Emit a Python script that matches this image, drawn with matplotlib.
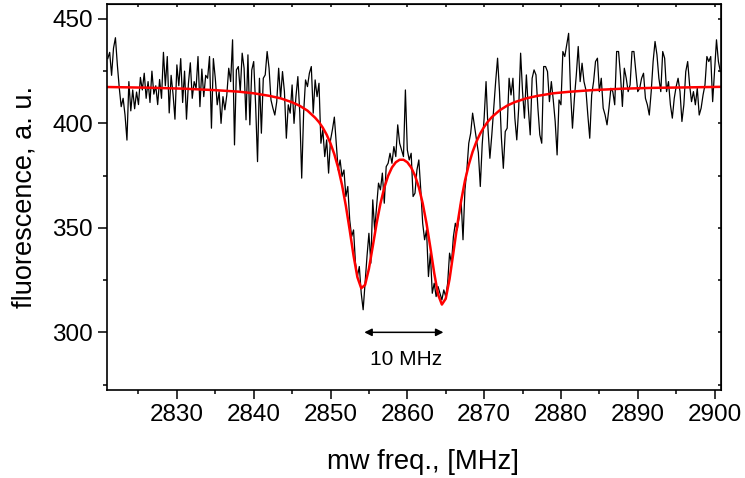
import numpy as np
import matplotlib
matplotlib.use("Agg")
import matplotlib.pyplot as plt
from matplotlib.ticker import MultipleLocator

plt.rcParams['font.family'] = ['Liberation Sans', 'DejaVu Sans']

# measured trace, 0.25 MHz sweep step starting at 2821 MHz
freq_start = 2821.0
freq_step = 0.25
signal = [
    # 2821 - 2832.25
    431, 434, 423, 436, 441, 428, 417, 408, 412, 404, 392, 420, 406, 416, 407, 415,
    409, 422, 416, 424, 412, 420, 410, 425, 414, 418, 409, 421, 412, 434, 418, 432,
    405, 423, 414, 402, 428, 418, 431, 410, 425, 402, 419, 429, 412, 420,
    # 2832.5 - 2845.25
    416.8, 432, 408, 426, 412.8, 423, 421.6, 432, 397.7, 431, 421.6, 408.9, 415.2, 400,
    412.8, 406.5, 413.6, 426.4, 420, 440, 389.7, 425.6, 427.2, 415.2, 433.6, 426.4,
    401.7, 432.8, 399.3, 425.6, 429.6, 408.9, 381.7, 421.6, 395.3, 421.6, 423.2, 434.4,
    426.4, 411.2, 407.3, 404, 410.4, 426.4, 412, 424.8, 415.2, 392.9, 408.9, 404.9,
    418.4, 400,
    # 2845.5 - 2849.75
    412.8, 422.4, 404.9, 373.8, 404.9, 420.8, 417.6, 424, 427.2, 404.9, 420.8, 412.8,
    419.2, 390.5, 396.9, 384.1, 392.1, 376.2,
    # 2850 - 2867.75
    392, 397, 403, 390.5, 377.7, 382.5, 374.6, 377.7, 365, 369.8,
    353.8, 345.8, 349, 333.1, 326.7, 331.5, 318.7, 310.8, 323.5, 336.3,
    347.4, 333.1, 363.4, 349, 360.2, 371.4, 368.2, 376.2, 361.8, 379.3,
    380.9, 385.7, 380.9, 388.9, 384.1, 399.3, 390.5, 387.3, 384.1, 416,
    387.3, 382.5, 385.7, 365, 366.6, 377.7, 382.5, 368.2, 352.2, 344.3,
    349, 326.7, 337.9, 318.7, 323.5, 317.1, 321.9, 318.7, 315.5, 320.3,
    317.1, 323.5, 337.9, 333.1, 345.8, 352.2, 349, 355.4, 363.4, 344.3,
    368.2, 377.7,
    # 2868 - 2869.75
    390.5, 395.3, 404.9, 398.5, 392, 386, 369.8, 390,
    # 2870 - 2882
    402.5, 420, 397.7, 383.3, 394.5, 407.3, 420, 431.2, 415.2, 392.9, 378.5, 396.1,
    397.7, 421.6, 413.6, 421.6, 402.5, 392.1, 407.3, 433.6, 415.2, 402.5, 423.2, 407.3,
    394.5, 421.6, 425.6, 423.2, 407.3, 394.5, 390.5, 427.2, 427.2, 424.8, 410.4, 420,
    411.2, 400.9, 384.9, 411.2, 408.9, 434.4, 432, 437.6, 443.1, 415.2, 397.7, 412, 423.2,
    # 2882.25 - 2894.5
    436.8, 420, 428.8, 420, 416, 404, 392.9, 413.6, 420, 429.6, 431.2, 415.2, 421.6,
    407.3, 404, 399.3, 407.3, 416.8, 415.2, 408.9, 434.4, 434.4, 423.2, 408.1, 426.4,
    421.6, 415.2, 418.4, 434.4, 434.4, 424.8, 415.2, 416.8, 421.6, 424, 412, 408.9, 404,
    415.2, 429.6, 439.2, 432.8, 421.6, 415.2, 434.4, 431.2, 415.2, 420, 408.9, 402.5,
    # 2894.75 - 2900.75
    412, 417.6, 421.6, 415.2, 400.9, 408.9, 424.8, 429.6, 418.4, 410.4, 415.2, 408.9,
    416.8, 404, 407.3, 413.6, 418.4, 432, 429.6, 432, 410.4, 424.8, 440, 429.6, 424.8,
]

# fitted curve (double dip)
fit_freq = [2821, 2826, 2831, 2835, 2838, 2840, 2842, 2843.5, 2845, 2846, 2847, 2848,
            2848.5, 2849, 2849.5, 2850, 2850.5, 2851, 2851.5, 2852, 2852.5, 2853, 2853.5,
            2854, 2854.5, 2855, 2855.5, 2856, 2856.5, 2857, 2857.5, 2858, 2858.5, 2859,
            2859.5, 2860, 2860.5, 2861, 2861.5, 2862, 2862.5, 2863, 2863.5, 2864, 2864.5,
            2865, 2865.5, 2866, 2866.5, 2867, 2867.5, 2868, 2868.5, 2869, 2869.5, 2870,
            2870.5, 2871, 2872, 2873, 2874, 2875.5, 2877, 2879, 2881, 2884, 2888, 2892,
            2896, 2901]
fit_val = [417.4, 417.1, 416.6, 415.9, 415.2, 414.4, 413.2, 412.0, 410.1, 408.4, 406.1,
           402.7, 400.6, 397.9, 394.6, 390.4, 385.2, 378.7, 370.5, 360.5, 348.9, 336.7,
           326.4, 321.1, 322.7, 330.4, 341.1, 352.1, 361.6, 369.2, 374.9, 378.9, 381.4,
           382.6, 382.6, 381.4, 378.9, 375.0, 369.4, 361.8, 352.1, 340.6, 328.4, 318.1,
           313.3, 316.1, 325.5, 338.2, 351.2, 362.8, 372.5, 380.2, 386.4, 391.3, 395.2,
           398.3, 400.9, 403.0, 406.2, 408.5, 410.2, 412.0, 413.2, 414.4, 415.1, 415.9,
           416.6, 417.0, 417.2, 417.5]

arrow_from = 2854.4
arrow_to = 2864.7
arrow_y = 300
label_text = "10 MHz"
label_x = 2859.8
label_y = 284.4

freq = freq_start + freq_step * np.arange(len(signal))

fig = plt.figure(figsize=(7.45, 4.78), dpi=100)
ax = fig.add_axes([0.1436, 0.1841, 0.8238, 0.8065])

ax.plot(freq, signal, color='black', lw=0.9)
ax.plot(fit_freq, fit_val, color='#ff0000', lw=1.8)

ax.annotate('', xy=(arrow_to, arrow_y), xytext=(arrow_from, arrow_y),
            arrowprops=dict(arrowstyle='<|-|>', color='black', lw=1.1,
                            mutation_scale=11, shrinkA=0, shrinkB=0))
ax.text(label_x, label_y, label_text, ha='center', va='baseline', fontsize=15)

ax.set_xlim(2820.9, 2900.8)
ax.set_ylim(272.4, 456.9)

ax.xaxis.set_major_locator(MultipleLocator(10))
ax.xaxis.set_minor_locator(MultipleLocator(5))
ax.yaxis.set_major_locator(MultipleLocator(50))
ax.yaxis.set_minor_locator(MultipleLocator(25))
ax.tick_params(which='major', length=6.5, width=1.1, labelsize=17.5, direction='out')
ax.tick_params(which='minor', length=3.2, width=1.1, direction='out')
for s in ax.spines.values():
    s.set_linewidth(1.2)

# mirrored short inward ticks on top and right
top = ax.secondary_xaxis('top')
top.xaxis.set_major_locator(MultipleLocator(10))
top.xaxis.set_minor_locator(MultipleLocator(5))
top.tick_params(which='both', direction='in', length=2.5, width=1.1, labeltop=False)
right = ax.secondary_yaxis('right')
right.yaxis.set_major_locator(MultipleLocator(50))
right.yaxis.set_minor_locator(MultipleLocator(25))
right.tick_params(which='both', direction='in', length=2.5, width=1.1, labelright=False)

ax.set_xlabel('mw freq., [MHz]', fontsize=19.7)
ax.xaxis.set_label_coords(0.515, -0.188, transform=ax.transAxes)
ax.xaxis.label.set_va('center')
ax.set_ylabel('fluorescence, a. u.', fontsize=19.5, labelpad=11)

fig.savefig('out.png', dpi=100)
